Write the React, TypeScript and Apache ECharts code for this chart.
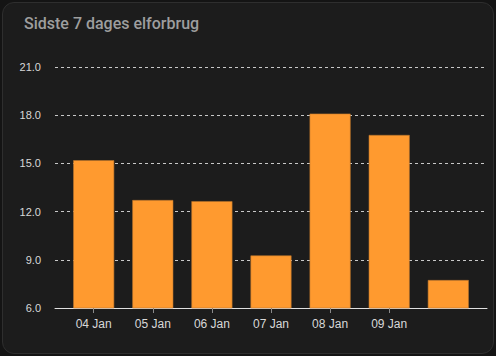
import React, { useEffect, useRef } from "react";
import * as echarts from "echarts";

const title = "Sidste 7 dages elforbrug";
const categories = ["04 Jan", "05 Jan", "06 Jan", "07 Jan", "08 Jan", "09 Jan", ""];
const values = [15.2, 12.72, 12.65, 9.27, 18.1, 16.77, 7.74];
const yTicks = [6, 9, 12, 15, 18, 21];

export default function App() {
  const ref = useRef<HTMLDivElement>(null);
  useEffect(() => {
    if (!ref.current) return;
    const chart = echarts.init(ref.current, null, { renderer: "svg" });
    const labelled = categories.map((c, i) => (c ? i : -1)).filter((i) => i >= 0);
    chart.setOption({
      animation: false,
      backgroundColor: "transparent",
      title: {
        text: title,
        left: 19,
        top: 10,
        textStyle: { color: "#9e9e9e", fontSize: 16, fontWeight: 500, fontFamily: "Roboto" },
      },
      grid: { left: 55, right: 9, top: 67, bottom: 48, containLabel: false },
      xAxis: {
        type: "value",
        min: -0.655,
        max: categories.length - 1 + 0.655,
        splitLine: { show: false },
        axisLine: { show: true, lineStyle: { color: "#e0e0e0", width: 1 } },
        axisTick: {
          show: true,
          customValues: labelled,
          length: 5,
          lineStyle: { color: "#8a8a8a" },
        },
        axisLabel: {
          customValues: labelled,
          formatter: (v: number) => categories[Math.round(v)] ?? "",
          color: "#d8d8d8",
          fontSize: 12,
          fontFamily: "Liberation Sans, Arial, sans-serif",
          margin: 10,
        },
      },
      yAxis: {
        type: "value",
        min: yTicks[0],
        max: yTicks[yTicks.length - 1],
        interval: 3,
        axisLine: { show: false },
        axisTick: { show: false },
        axisLabel: {
          formatter: (v: number) => v.toFixed(1),
          color: "#d8d8d8",
          fontSize: 11,
          fontFamily: "Liberation Sans, Arial, sans-serif",
          margin: 14,
        },
        splitLine: { show: true, lineStyle: { color: "#c8c8c8", type: [3, 3], width: 1 } },
      },
      series: [
        {
          type: "bar",
          data: values.map((v, i) => [i, v]),
          barWidth: 41,
          itemStyle: { color: "#ff9a2f", borderColor: "#b8732c", borderWidth: 0.6 },
        },
      ],
    });
    return () => chart.dispose();
  }, []);

  return (
    <div style={{ position: "fixed", left: 0, top: 0, width: 496, height: 356, background: "#141414" }}>
      <div
        style={{
          position: "absolute",
          left: 2,
          top: 2,
          width: 490,
          height: 350,
          border: "1px solid #2e2e2e",
          borderRadius: 12,
          background: "#1c1c1c",
        }}
      />
      <div ref={ref} style={{ position: "absolute", left: 0, top: 0, width: 496, height: 356 }} />
    </div>
  );
}
